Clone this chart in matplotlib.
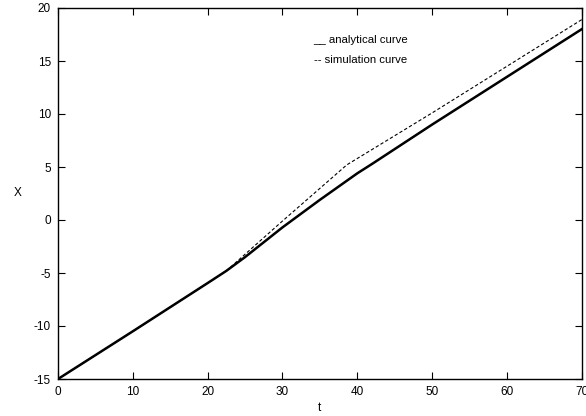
import numpy as np
import matplotlib.pyplot as plt

plt.rcParams['font.family'] = ['Liberation Sans', 'DejaVu Sans']
plt.rcParams['axes.unicode_minus'] = False

# curve values
t_analytical = [0, 10, 20, 22.5, 25, 30, 35, 38, 40, 42, 50, 60, 70]
x_analytical = [-15, -10.5, -5.95, -4.8, -3.5, -0.7, 1.9, 3.4, 4.4, 5.3, 9.0, 13.5, 18.0]

t_simulation = [0, 10, 20, 22.5, 30, 38.6, 50, 60, 70]
x_simulation = [-15, -10.5, -5.95, -4.8, -0.1, 5.2, 10.1, 14.5, 18.9]

x_ticks = [0, 10, 20, 30, 40, 50, 60, 70]
y_ticks = [-15, -10, -5, 0, 5, 10, 15, 20]

fig = plt.figure(figsize=(5.86, 4.16), dpi=100)
ax = fig.add_axes([58 / 586, 1 - 379 / 416, (581.7 - 58) / 586, (379 - 8) / 416])

ax.plot(t_analytical, x_analytical, color='black', linewidth=1.8)
ax.plot(t_simulation, x_simulation, color='black', linewidth=0.8, linestyle=(0, (3, 2)))

ax.set_xlim(0, 70)
ax.set_ylim(-15, 20)
ax.set_xticks(x_ticks)
ax.set_yticks(y_ticks)
ax.tick_params(direction='in', length=5, width=0.8, top=True, right=True,
               labelsize=8.5, pad=5)
for s in ax.spines.values():
    s.set_linewidth(1.0)

ax.set_xlabel('t', fontsize=8.5, labelpad=3)
ax.set_ylabel('X', fontsize=8.5, labelpad=12, rotation=0, va='center')

# gnuplot-style key written as text
ax.text(0.488, 0.905, '__ analytical curve', transform=ax.transAxes, fontsize=8.2)
ax.text(0.488, 0.852, '-- simulation curve', transform=ax.transAxes, fontsize=8.2)

fig.savefig('out.png', dpi=100)
